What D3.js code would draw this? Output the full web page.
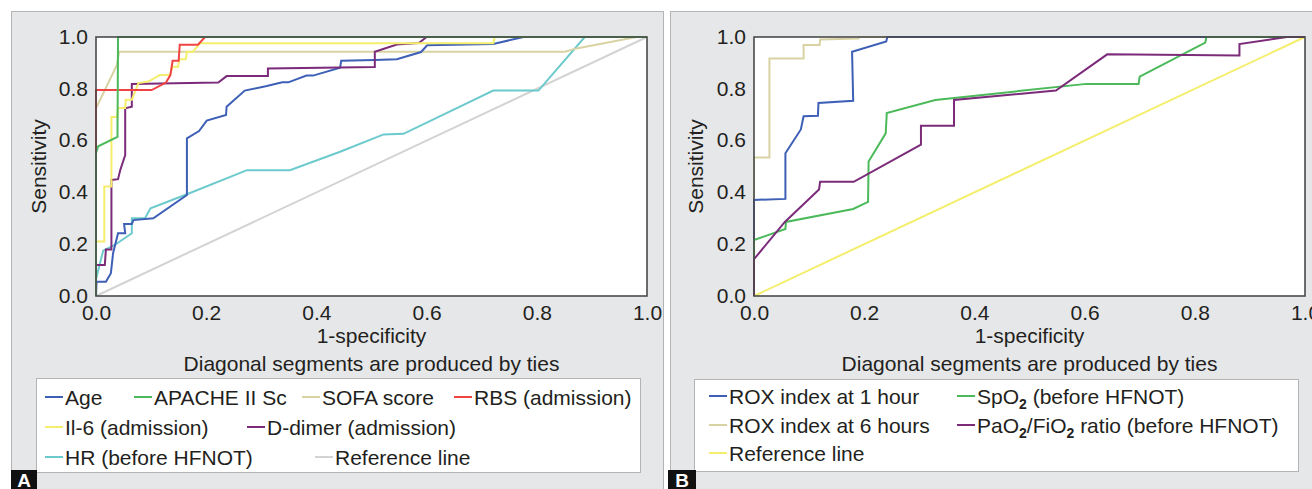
<!DOCTYPE html>
<html>
<head>
<meta charset="utf-8">
<script src="https://cdn.jsdelivr.net/npm/d3@7"></script>
<style>
  body { margin: 0; background: #fff; }
  svg { display: block; font-family: "Liberation Sans", Arial, sans-serif; }
</style>
</head>
<body>
<div id="chart"></div>
<script>
// ROC points [1-specificity, sensitivity]
const ageRoc = [[0,0],[0.001,0.055],[0.018,0.055],[0.027,0.088],[0.031,0.165],[0.040,0.242],[0.053,0.242],[0.051,0.278],[0.065,0.278],[0.068,0.293],[0.104,0.300],[0.165,0.390],[0.165,0.609],[0.187,0.637],[0.201,0.677],[0.236,0.699],[0.237,0.731],[0.270,0.793],[0.310,0.811],[0.338,0.825],[0.349,0.825],[0.382,0.851],[0.394,0.851],[0.443,0.881],[0.445,0.908],[0.506,0.911],[0.546,0.914],[0.590,0.942],[0.601,0.968],[0.721,0.973],[0.776,1],[1,1]]
const apacheRoc = [[0,0],[0,0.552],[0.004,0.578],[0.039,0.614],[0.040,1],[1,1]]
const sofaRoc = [[0,0],[0,0.725],[0.038,0.892],[0.042,0.943],[0.851,0.943],[0.872,0.956],[0.981,1],[1,1]]
const rbsRoc = [[0,0],[0,0.795],[0.101,0.795],[0.127,0.824],[0.135,0.853],[0.139,0.908],[0.150,0.908],[0.152,0.970],[0.185,0.970],[0.198,1],[1,1]]
const il6Roc = [[0,0],[0,0.21],[0.015,0.21],[0.015,0.423],[0.028,0.423],[0.028,0.691],[0.038,0.691],[0.040,0.726],[0.053,0.726],[0.054,0.758],[0.065,0.758],[0.077,0.822],[0.095,0.828],[0.116,0.853],[0.134,0.853],[0.139,0.885],[0.149,0.885],[0.151,0.914],[0.163,0.914],[0.165,0.943],[0.176,0.943],[0.189,0.976],[0.721,0.976],[0.724,1],[1,1]]
const ddimerRoc = [[0,0],[0,0.120],[0.016,0.120],[0.018,0.180],[0.028,0.180],[0.028,0.448],[0.040,0.451],[0.044,0.486],[0.053,0.544],[0.053,0.725],[0.065,0.731],[0.065,0.819],[0.222,0.824],[0.237,0.849],[0.312,0.849],[0.312,0.878],[0.506,0.884],[0.506,0.943],[0.546,0.971],[0.586,0.977],[0.600,1],[1,1]]
const hrRoc = [[0,0],[0,0.065],[0.013,0.175],[0.034,0.197],[0.065,0.242],[0.065,0.300],[0.089,0.300],[0.099,0.339],[0.165,0.393],[0.274,0.486],[0.352,0.486],[0.443,0.557],[0.522,0.624],[0.558,0.626],[0.721,0.793],[0.803,0.793],[0.887,1],[1,1]]

const rox1Roc = [[0,0],[0,0.371],[0.057,0.375],[0.057,0.551],[0.085,0.643],[0.090,0.694],[0.116,0.696],[0.117,0.745],[0.180,0.754],[0.178,0.943],[0.240,0.983],[0.242,1],[1,1]]
const rox6Roc = [[0,0],[0,0.535],[0.028,0.535],[0.028,0.917],[0.090,0.917],[0.090,0.969],[0.119,0.969],[0.120,0.990],[0.189,0.994],[0.192,1],[1,1]]
const spo2Roc = [[0,0],[0,0.216],[0.057,0.259],[0.058,0.286],[0.180,0.336],[0.207,0.363],[0.208,0.519],[0.239,0.628],[0.241,0.706],[0.329,0.757],[0.603,0.819],[0.698,0.819],[0.700,0.847],[0.819,0.978],[0.821,1],[1,1]]
const pfRoc = [[0,0],[0,0.142],[0.056,0.286],[0.118,0.411],[0.120,0.441],[0.181,0.441],[0.303,0.584],[0.303,0.657],[0.363,0.657],[0.363,0.757],[0.548,0.793],[0.641,0.933],[0.881,0.929],[0.881,0.973],[0.967,1],[1,1]]
const refLine = [[0,0],[1,1]]

const tickValues = [0, 0.2, 0.4, 0.6, 0.8, 1.0]

const namesA = ['Age', 'APACHE II Sc', 'SOFA score', 'RBS (admission)', 'Il-6 (admission)', 'D-dimer (admission)', 'HR (before HFNOT)', 'Reference line']
const namesB = ['ROX index at 1 hour', 'SpO|2| (before HFNOT)', 'ROX index at 6 hours', 'PaO|2|/FiO|2| ratio (before HFNOT)', 'Reference line']

const colors = {
  blue: '#3d5fb6', green: '#4cba5a', tan: '#d9d3a3', red: '#ef4442',
  yellow: '#f4ee6c', purple: '#7b2b7a', cyan: '#6ccacd', gray: '#d3d3d3'
}

const width = 1312
const height = 489
const svg = d3.select('#chart').append('svg').attr('width', width).attr('height', height)
svg.append('rect').attr('width', width).attr('height', height).attr('fill', '#fff')

function drawPanel(p) {
  svg.append('rect')
    .attr('x', p.box[0] + 0.5).attr('y', p.box[1] + 0.5)
    .attr('width', p.box[2]).attr('height', p.box[3])
    .attr('fill', '#e6e7e9').attr('stroke', '#b4b4b4')

  const xScale = d3.scaleLinear().domain([0, 1]).range([p.left, p.right])
  const yScale = d3.scaleLinear().domain([0, 1]).range([p.bottom, p.top])

  svg.append('rect')
    .attr('x', p.left).attr('y', p.top)
    .attr('width', p.right - p.left).attr('height', p.bottom - p.top)
    .attr('fill', '#fff')

  const line = d3.line()
    .x(function(d) { return xScale(d[0]) })
    .y(function(d) { return yScale(d[1]) })

  p.series.forEach(function(s) {
    svg.append('path')
      .datum(s.data)
      .attr('d', line)
      .attr('fill', 'none')
      .attr('stroke', s.color)
      .attr('stroke-width', 2)
  })

  svg.append('rect')
    .attr('x', p.left).attr('y', p.top)
    .attr('width', p.right - p.left).attr('height', p.bottom - p.top)
    .attr('fill', 'none').attr('stroke', '#4a4a4a').attr('stroke-width', 1.6)

  const xAxis = d3.axisBottom(xScale).tickValues(tickValues).tickSize(0).tickPadding(9).tickFormat(d3.format('.1f'))
  const yAxis = d3.axisLeft(yScale).tickValues(tickValues).tickSize(0).tickPadding(8).tickFormat(d3.format('.1f'))

  const gx = svg.append('g').attr('transform', 'translate(0,' + p.bottom + ')').call(xAxis)
  const gy = svg.append('g').attr('transform', 'translate(' + p.left + ',0)').call(yAxis)
  ;[gx, gy].forEach(function(g) {
    g.select('.domain').remove()
    g.selectAll('text').attr('font-size', '21px').attr('fill', '#231f20').attr('font-family', null)
  })
  gy.selectAll('text').attr('dy', '0.3em')

  svg.append('text')
    .attr('transform', 'translate(' + p.ylabelX + ',' + (p.top + p.bottom) / 2 + ') rotate(-90)')
    .attr('text-anchor', 'middle').attr('font-size', '21px').attr('fill', '#231f20')
    .text('Sensitivity')

  svg.append('text')
    .attr('x', (p.left + p.right) / 2).attr('y', 343)
    .attr('text-anchor', 'middle').attr('font-size', '21px').attr('fill', '#231f20')
    .text('1-specificity')

  svg.append('text')
    .attr('x', (p.left + p.right) / 2).attr('y', 371)
    .attr('text-anchor', 'middle').attr('font-size', '21px').attr('fill', '#231f20')
    .text('Diagonal segments are produced by ties')

  svg.append('rect')
    .attr('x', p.legendBox[0] + 0.5).attr('y', p.legendBox[1] + 0.5)
    .attr('width', p.legendBox[2]).attr('height', p.legendBox[3])
    .attr('fill', '#fff').attr('stroke', '#b4b4b4')

  p.legend.forEach(function(item) {
    const cy = p.rows[item.row]
    svg.append('line')
      .attr('x1', item.x - 20).attr('x2', item.x - 2)
      .attr('y1', cy).attr('y2', cy)
      .attr('stroke', item.color).attr('stroke-width', 2)
    const t = svg.append('text')
      .attr('x', item.x).attr('y', cy + 7.5)
      .attr('font-size', '21px').attr('fill', '#231f20')
    // parts between bars are subscripts
    item.name.split('|').forEach(function(part, i) {
      if (i % 2 === 1) {
        t.append('tspan').attr('dy', 5).attr('font-size', '14px').attr('font-weight', 'bold').text(part)
      } else {
        t.append('tspan').attr('dy', i === 0 ? 0 : -5).text(part)
      }
    })
  })

  svg.append('rect')
    .attr('x', p.tag[0]).attr('y', 470).attr('width', p.tag[1]).attr('height', 20)
    .attr('fill', '#111')
  svg.append('text')
    .attr('x', p.tag[0] + p.tag[1] / 2).attr('y', 487)
    .attr('text-anchor', 'middle').attr('font-size', '19px').attr('font-weight', 'bold')
    .attr('fill', '#fff').text(p.tag[2])
}

drawPanel({
  box: [11, 11, 652, 490],
  left: 96, right: 647, top: 37, bottom: 296, ylabelX: 46,
  series: [
    { data: refLine, color: colors.gray },
    { data: hrRoc, color: colors.cyan },
    { data: sofaRoc, color: colors.tan },
    { data: ageRoc, color: colors.blue },
    { data: ddimerRoc, color: colors.purple },
    { data: il6Roc, color: colors.yellow },
    { data: rbsRoc, color: colors.red },
    { data: apacheRoc, color: colors.green }
  ],
  legendBox: [36, 378, 604, 94],
  rows: [397, 427, 457],
  legend: [
    { name: namesA[0], color: colors.blue, row: 0, x: 65 },
    { name: namesA[1], color: colors.green, row: 0, x: 154 },
    { name: namesA[2], color: colors.tan, row: 0, x: 322 },
    { name: namesA[3], color: colors.red, row: 0, x: 474 },
    { name: namesA[4], color: colors.yellow, row: 1, x: 65 },
    { name: namesA[5], color: colors.purple, row: 1, x: 267 },
    { name: namesA[6], color: colors.cyan, row: 2, x: 65 },
    { name: namesA[7], color: colors.gray, row: 2, x: 335 }
  ],
  tag: [11, 26, 'A']
})

drawPanel({
  box: [670, 11, 660, 490],
  left: 754, right: 1305, top: 37, bottom: 296, ylabelX: 703,
  series: [
    { data: refLine, color: colors.yellow },
    { data: rox6Roc, color: colors.tan },
    { data: rox1Roc, color: colors.blue },
    { data: spo2Roc, color: colors.green },
    { data: pfRoc, color: colors.purple }
  ],
  legendBox: [694, 379, 604, 92],
  rows: [396, 425, 453],
  legend: [
    { name: namesB[0], color: colors.blue, row: 0, x: 729 },
    { name: namesB[1], color: colors.green, row: 0, x: 977 },
    { name: namesB[2], color: colors.tan, row: 1, x: 729 },
    { name: namesB[3], color: colors.purple, row: 1, x: 977 },
    { name: namesB[4], color: colors.yellow, row: 2, x: 729 }
  ],
  tag: [668, 28, 'B']
})
</script>
</body>
</html>
